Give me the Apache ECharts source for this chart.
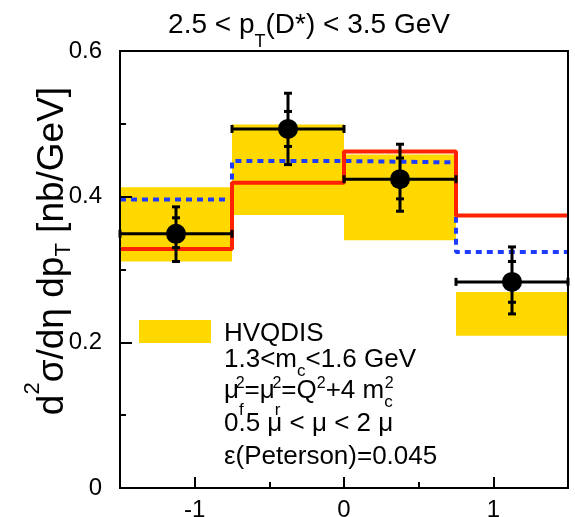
<!DOCTYPE html>
<html>
<head>
<meta charset="utf-8">
<script src="https://cdn.jsdelivr.net/npm/echarts@6/dist/echarts.min.js"></script>
<style>
html, body { margin: 0; padding: 0; background: #fff; }
#chart { width: 575px; height: 517px; }
</style>
</head>
<body>
<div id="chart"></div>
<script>
var chart = echarts.init(document.getElementById('chart'))

// eta bins
var binLo = [-1.5, -0.75, 0, 0.75]
var binHi = [-0.75, 0, 0.75, 1.5]
// data points + errors (inner ticks = stat, outer = total)
var dataY = [0.349, 0.493, 0.424, 0.283]
var statLo = [0.330, 0.469, 0.397, 0.255]
var statHi = [0.371, 0.517, 0.453, 0.311]
var totLo = [0.311, 0.444, 0.380, 0.239]
var totHi = [0.386, 0.542, 0.472, 0.331]
// HVQDIS band
var bandLo = [0.311, 0.375, 0.340, 0.209]
var bandHi = [0.413, 0.499, 0.458, 0.269]
// red solid and blue dashed predictions
var redLine = [0.328, 0.419, 0.462, 0.374]
var blueLine = [0.396, 0.449, 0.447, 0.324]
// ticks
var xMajor = [-1, 0, 1]
var xMinor = [-0.5, 0.5]

var FONT = '"Liberation Sans", Arial, Helvetica, sans-serif'

function stepData(vals) {
  var d = binLo.map(function (x, i) { return [x, vals[i]] })
  d.push([binHi[binHi.length - 1], vals[vals.length - 1]])
  return d
}

var bandData = binLo.map(function (x, i) {
  return [x, binHi[i], bandLo[i], bandHi[i]]
})
var errData = binLo.map(function (x, i) {
  return [(x + binHi[i]) / 2, dataY[i], x, binHi[i], totLo[i], totHi[i], statLo[i], statHi[i]]
})
var pointData = errData.map(function (d) { return [d[0], d[1]] })

function renderBand(params, api) {
  var a = api.coord([api.value(0), api.value(3)])
  var b = api.coord([api.value(1), api.value(2)])
  return {
    type: 'rect',
    shape: { x: a[0], y: a[1], width: b[0] - a[0], height: b[1] - a[1] },
    style: { fill: '#ffd800' }
  }
}

function renderErr(params, api) {
  var c = api.coord([api.value(0), api.value(1)])
  var l = api.coord([api.value(2), api.value(1)])
  var r = api.coord([api.value(3), api.value(1)])
  var tl = api.coord([api.value(0), api.value(4)])
  var th = api.coord([api.value(0), api.value(5)])
  var sl = api.coord([api.value(0), api.value(6)])
  var sh = api.coord([api.value(0), api.value(7)])
  function seg(x1, y1, x2, y2) {
    return { type: 'line', shape: { x1: x1, y1: y1, x2: x2, y2: y2 }, style: { stroke: '#000', lineWidth: 3 } }
  }
  return {
    type: 'group',
    children: [
      seg(l[0], c[1], r[0], c[1]),
      seg(l[0], c[1] - 4, l[0], c[1] + 4),
      seg(r[0], c[1] - 4, r[0], c[1] + 4),
      seg(c[0], tl[1], c[0], th[1]),
      seg(c[0] - 4, tl[1], c[0] + 4, tl[1]),
      seg(c[0] - 4, th[1], c[0] + 4, th[1]),
      seg(c[0] - 4, sl[1], c[0] + 4, sl[1]),
      seg(c[0] - 4, sh[1], c[0] + 4, sh[1])
    ]
  }
}

function rs(size, pad) {
  var o = { fill: '#000', fontFamily: FONT, fontSize: size }
  if (pad) o.padding = pad
  return o
}
function legendLine(y, text) {
  return {
    type: 'text', x: 224, y: y, z: 100,
    style: {
      text: text, fill: '#000', fontFamily: FONT, fontSize: 26,
      align: 'left', verticalAlign: 'middle',
      rich: {
        a: rs(26),
        sub: rs(17, [22, 0, 0, 0]),
        subl: rs(17, [38, 0, 0, 0]),
        sup: rs(16, [0, 0, 14, -8]),
        sup0: rs(16, [0, 0, 14, 0])
      }
    }
  }
}

var axisLineStyle = { color: '#000', width: 2 }

var option = {
  animation: false,
  grid: [
    { left: 120, right: 7, top: 51, bottom: 29, show: true, borderColor: '#000', borderWidth: 2,
      backgroundColor: 'transparent', z: 5, outerBoundsMode: 'none' },
    { left: 120, right: 7, top: 51, bottom: 29, show: false, outerBoundsMode: 'none' }
  ],
  xAxis: [{
    gridIndex: 0,
    type: 'value',
    min: -1.5,
    max: 1.5,
    interval: 0.5,
    axisLine: { show: true, onZero: false, lineStyle: axisLineStyle },
    axisTick: { show: true, inside: true, length: 11, customValues: xMajor, lineStyle: axisLineStyle },
    axisLabel: { customValues: xMajor, color: '#000', fontSize: 24, fontFamily: FONT, margin: 10 },
    splitLine: { show: false },
    z: 10
  }, {
    gridIndex: 1,
    type: 'value',
    min: -1.5,
    max: 1.5,
    axisLine: { show: false, onZero: false },
    axisTick: { show: true, inside: true, length: 6, customValues: xMinor, lineStyle: axisLineStyle },
    axisLabel: { show: false },
    splitLine: { show: false },
    z: 10
  }],
  yAxis: [{
    gridIndex: 0,
    type: 'value',
    min: 0,
    max: 0.6,
    interval: 0.2,
    axisLine: { show: true, onZero: false, lineStyle: axisLineStyle },
    axisTick: { show: true, inside: true, length: 12, lineStyle: axisLineStyle },
    minorTick: { show: true, splitNumber: 2, length: 6, lineStyle: axisLineStyle },
    axisLabel: {
      color: '#000', fontSize: 24, fontFamily: FONT, margin: 18,
      formatter: function (v) { return v === 0 ? '0' : v.toFixed(1) }
    },
    splitLine: { show: false },
    z: 10
  }, {
    gridIndex: 1, type: 'value', min: 0, max: 0.6, show: false,
    axisLine: { onZero: false }
  }],
  series: [
    {
      name: 'HVQDIS',
      type: 'custom',
      renderItem: renderBand,
      encode: { x: [0, 1], y: [2, 3] },
      data: bandData,
      z: 1
    },
    {
      type: 'line',
      step: 'end',
      symbol: 'none',
      lineStyle: { color: '#1e3cff', width: 4, type: [6, 5] },
      data: stepData(blueLine),
      z: 2
    },
    {
      type: 'line',
      step: 'end',
      symbol: 'none',
      lineStyle: { color: '#ff2200', width: 4 },
      data: stepData(redLine),
      z: 3
    },
    {
      type: 'custom',
      renderItem: renderErr,
      encode: { x: 0, y: 1 },
      data: errData,
      z: 4
    },
    {
      type: 'scatter',
      symbol: 'circle',
      symbolSize: 20,
      itemStyle: { color: '#000', opacity: 1 },
      data: pointData,
      z: 5
    }
  ],
  graphic: [
    {
      type: 'text', x: 309, y: 25,
      style: {
        text: '{a|2.5 < p}{sub|T}{a|(D*) < 3.5 GeV}',
        fill: '#000', fontFamily: FONT, fontSize: 28,
        align: 'center', verticalAlign: 'middle',
        rich: { a: rs(28), sub: rs(18, [34, 0, 0, 0]) }
      }
    },
    {
      type: 'text', x: 53, y: 251, rotation: Math.PI / 2,
      style: {
        text: '{a|d}{sup|2}{a|σ/dη dp}{sub|T}{a| [nb/GeV]}',
        fill: '#000', fontFamily: FONT, fontSize: 37,
        align: 'center', verticalAlign: 'middle',
        rich: { a: rs(37), sup: rs(22, [0, 0, 40, 0]), sub: rs(22, [22, 0, 0, 0]) }
      }
    },
    {
      type: 'rect', z: 100,
      shape: { x: 139, y: 320, width: 72, height: 23 },
      style: { fill: '#ffd800' }
    },
    legendLine(334, '{a|HVQDIS}'),
    legendLine(360, '{a|1.3<m}{sub|c}{a|<1.6 GeV}'),
    legendLine(391, '{a|μ}{subl|f}{sup|2}{a|=μ}{subl|r}{sup|2}{a|=Q}{sup0|2}{a|+4 m}{sub|c}{sup|2}'),
    legendLine(424, '{a|0.5 μ < μ < 2 μ}'),
    legendLine(457, '{a|ε(Peterson)=0.045}')
  ]
}
chart.setOption(option)
</script>
</body>
</html>
